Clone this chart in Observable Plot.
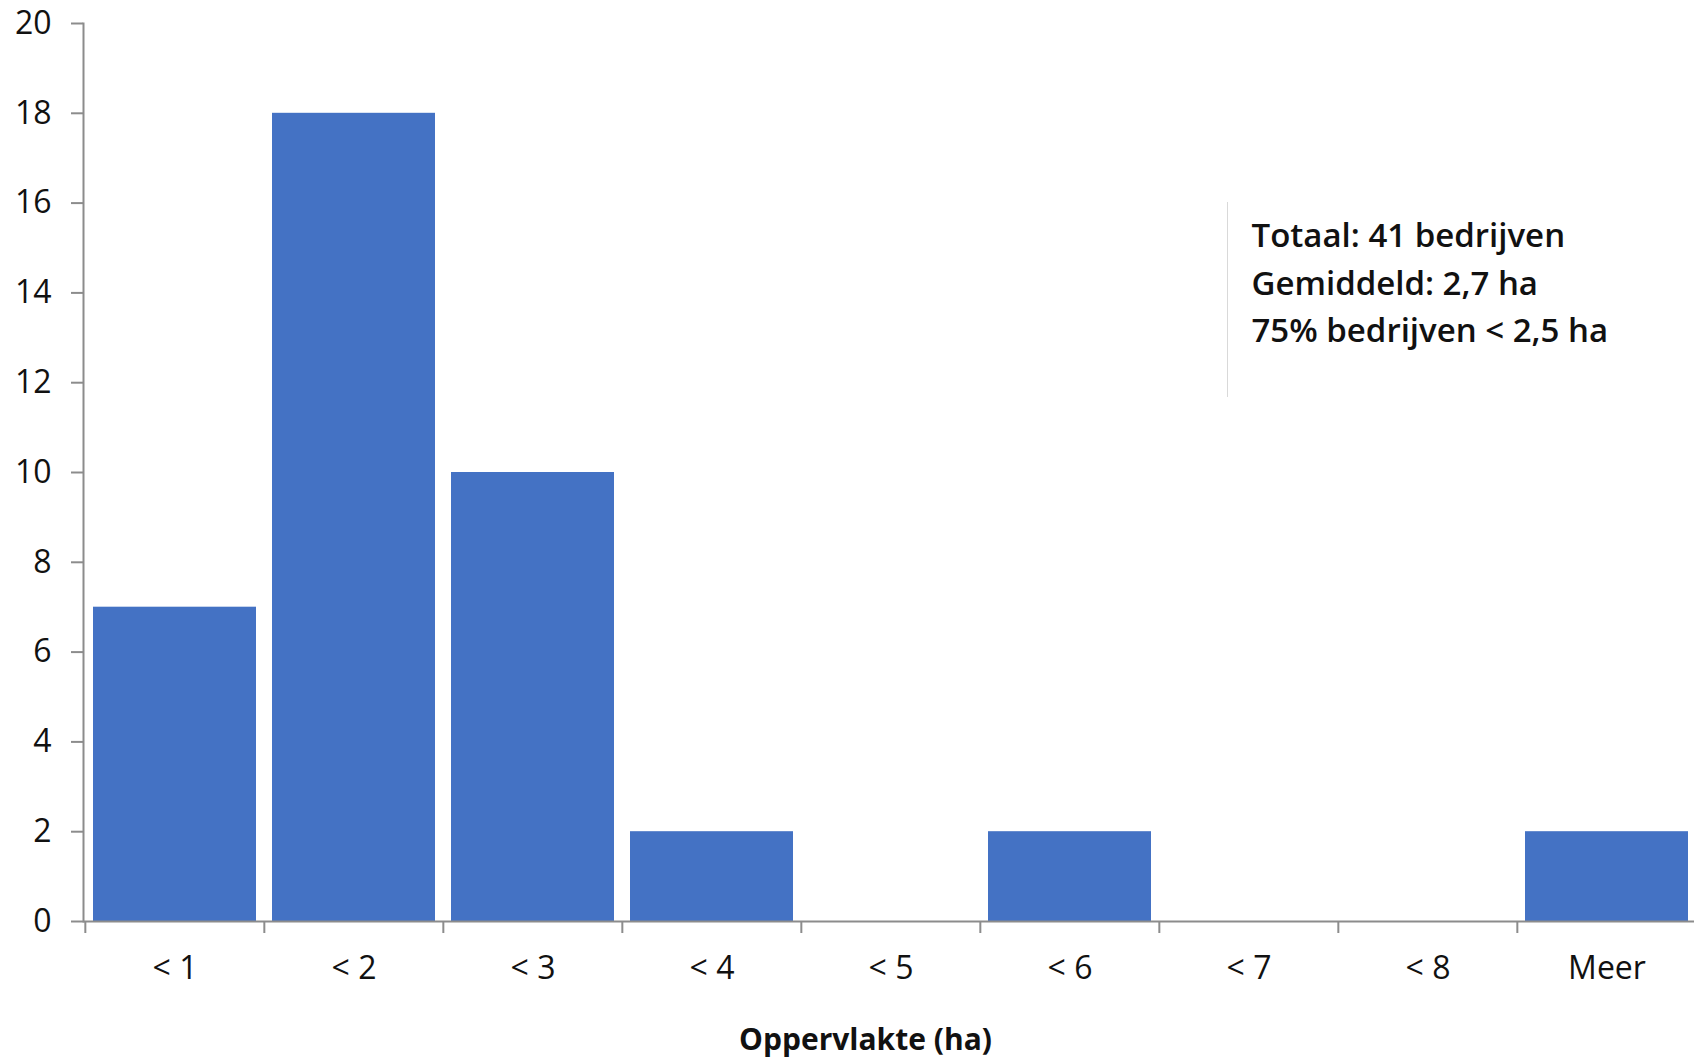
<!DOCTYPE html>
<html>
<head>
<meta charset="utf-8">
<script src="https://cdn.jsdelivr.net/npm/d3@7"></script>
<script src="https://cdn.jsdelivr.net/npm/@observablehq/plot@0.6"></script>
<style>
  html, body { margin: 0; padding: 0; background: #fff; overflow: hidden; }
  #chart { position: relative; width: 1694px; height: 1057px; }
  #chart svg { font-family: "Open Sans", sans-serif; }
  .note-rule { position: absolute; left: 1227px; top: 202px; width: 1px; height: 195px; background: #d9d9d9; }
</style>
</head>
<body>
<div id="chart"></div>
<script>
const categories = ["< 1", "< 2", "< 3", "< 4", "< 5", "< 6", "< 7", "< 8", "Meer"];
const counts = [7, 18, 10, 2, 0, 2, 0, 0, 2];
const yTicks = [0, 2, 4, 6, 8, 10, 12, 14, 16, 18, 20];
const noteLines = ["Totaal: 41 bedrijven", "Gemiddeld: 2,7 ha", "75% bedrijven < 2,5 ha"];
const xTitle = "Oppervlakte (ha)";

const data = categories.map((c, i) => ({cat: c, n: counts[i]}));

const W = 1694, H = 1057;
const mL = 83, mT = 23, mB = 136, mR = -3;
const step = (W - mR - mL) / categories.length;
const axisGray = "#8c8c8c";

const plot = Plot.plot({
  width: W,
  height: H,
  marginLeft: mL,
  marginRight: mR,
  marginTop: mT,
  marginBottom: mB,
  style: {fontSize: "32px", color: "#111", background: "#fff", overflow: "visible"},
  x: {domain: categories, paddingInner: 0.09, paddingOuter: 0.045, label: null},
  y: {domain: [0, 20], label: null},
  marks: [
    Plot.barY(data, {x: "cat", y: "n", fill: "#4472C4"}),
    Plot.ruleY([0], {stroke: axisGray, strokeWidth: 2}),
    Plot.frame({anchor: "left", stroke: axisGray, strokeWidth: 2}),
    Plot.axisY({ticks: yTicks, tickSize: 12, tickPadding: 20, stroke: axisGray, strokeWidth: 2, fill: "#111", fontSize: 32, label: null}),
    Plot.axisX({tickSize: 12, dx: -step / 2, text: null, stroke: axisGray, strokeWidth: 2, label: null}),
    Plot.axisX({tickSize: 0, tickPadding: 35, fill: "#111", fontSize: 32, label: null}),
    Plot.text([xTitle], {frameAnchor: "bottom", dx: -25, dy: 128, lineAnchor: "bottom", fontSize: 30, fontWeight: 700, fill: "#111"}),
    Plot.text([noteLines.join("\n")], {frameAnchor: "top-left", textAnchor: "start", lineAnchor: "top", dx: 1251 - mL, dy: 190, lineHeight: 1.44, fontSize: 33, fontWeight: 600, fill: "#111"})
  ]
});

const chart = document.getElementById("chart");
chart.appendChild(plot);
const rule = document.createElement("div");
rule.className = "note-rule";
chart.appendChild(rule);
</script>
</body>
</html>
